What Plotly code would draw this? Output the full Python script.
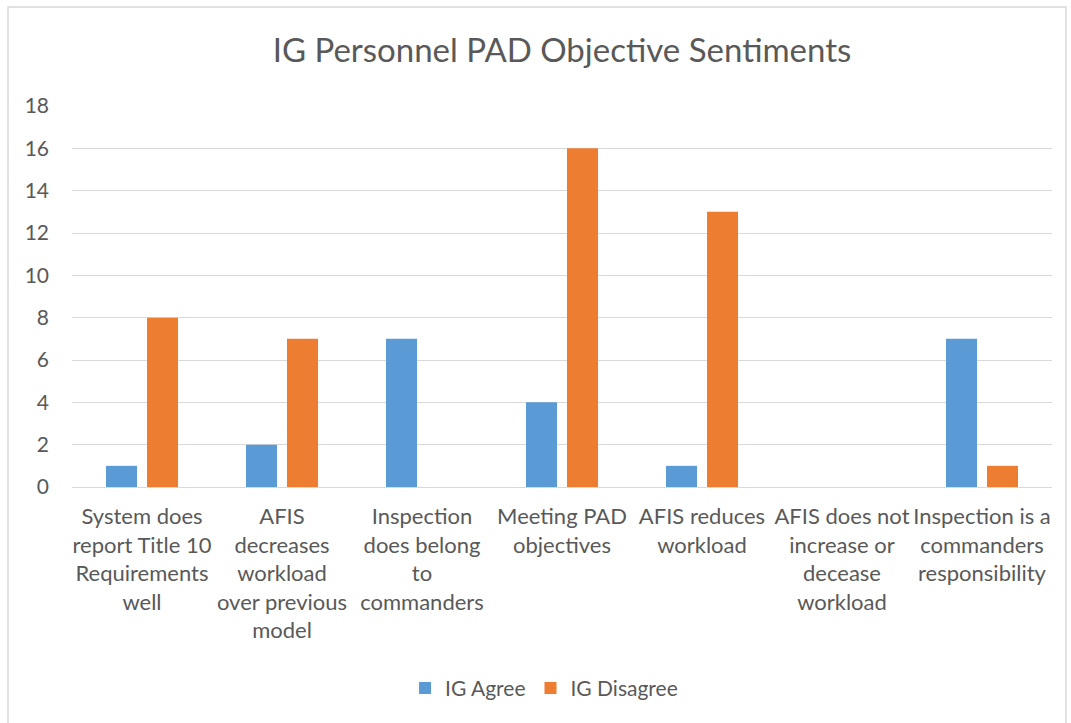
import plotly.graph_objects as go

categories = [
    "System does<br>report Title 10<br>Requirements<br>well",
    "AFIS<br>decreases<br>workload<br>over previous<br>model",
    "Inspection<br>does belong<br>to<br>commanders",
    "Meeting PAD<br>objectives",
    "AFIS reduces<br>workload",
    "AFIS does not<br>increase or<br>decease<br>workload",
    "Inspection is a<br>commanders<br>responsibility",
]
ig_agree = [1, 2, 7, 4, 1, 0, 7]
ig_disagree = [8, 7, 0, 16, 13, 0, 1]
y_ticks = [0, 2, 4, 6, 8, 10, 12, 14, 16, 18]

FONT = "Lato, Carlito, Calibri, 'Open Sans', sans-serif"
GRAY = "#595959"

fig = go.Figure()
fig.add_trace(go.Bar(x=categories, y=ig_agree, name="IG Agree", marker_color="#5B9BD5",
                     marker_line_width=0))
fig.add_trace(go.Bar(x=categories, y=ig_disagree, name="IG Disagree", marker_color="#ED7D31",
                     marker_line_width=0))

fig.update_layout(
    width=1071, height=723,
    margin=dict(l=72, r=19, t=106, b=236),
    paper_bgcolor="white", plot_bgcolor="white",
    barmode="group", bargap=0.414, bargroupgap=0.244,
    font=dict(family=FONT, color=GRAY, size=21),
    title=dict(text="IG Personnel PAD Objective Sentiments", x=0.5, xref="paper", y=0.93, yref="container",
               xanchor="center", yanchor="middle",
               font=dict(family=FONT, size=33, color=GRAY)),
    legend=dict(orientation="h", x=0.508, xanchor="center", xref="container", y=0.048, yref="container",
                yanchor="middle", font=dict(size=21, color=GRAY), itemwidth=30, traceorder="normal"),
    showlegend=True,
)
fig.update_yaxes(range=[0, 18], tickvals=y_ticks, showgrid=True, gridcolor="#D9D9D9", gridwidth=1.3,
                 zeroline=True, zerolinecolor="#D9D9D9", zerolinewidth=1.3, showline=False,
                 ticks="", ticklabelstandoff=22, tickfont=dict(size=21, color=GRAY))
fig.update_xaxes(showline=False, ticks="", tickangle=0, tickfont=dict(size=22, color=GRAY),
                 ticklabelstandoff=14)

fig.add_shape(type="rect", xref="paper", yref="paper",
              x0=(8 - 72) / 980, x1=(1066 - 72) / 980,
              y0=(487 - 730) / 381, y1=(487 - 7) / 381,
              line=dict(color="#D9D9D9", width=1.5), fillcolor="rgba(0,0,0,0)", layer="below")

fig.write_html("out.html", config={"displayModeBar": False},
               post_script="document.body.style.margin='0';document.body.style.padding='0';")
